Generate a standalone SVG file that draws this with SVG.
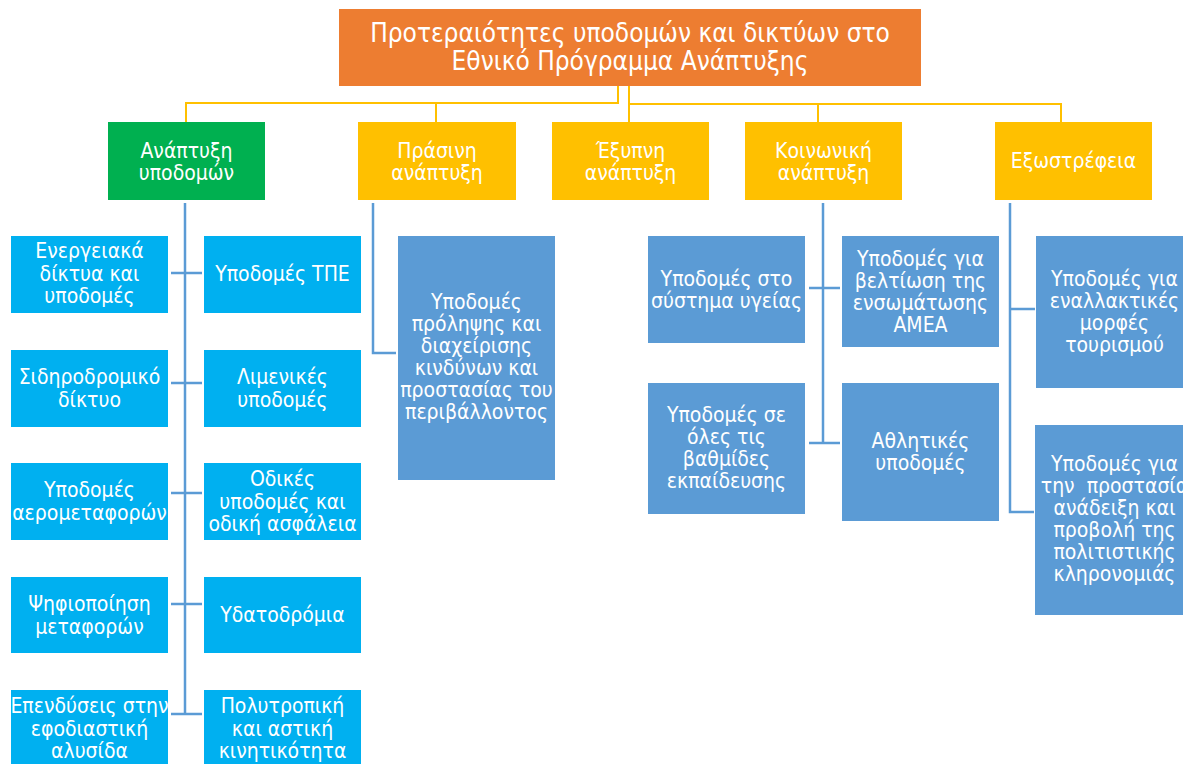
<svg xmlns="http://www.w3.org/2000/svg" width="1183" height="764" viewBox="0 0 1183 764">
<style>
text{font-family:"DejaVu Sans Condensed","DejaVu Sans",sans-serif;fill:#fff;text-anchor:middle;font-size:21px}
.title{font-size:26px}
.orange{fill:#ED7D31}
.green{fill:#00B050}
.yellow{fill:#FFC000}
.cyan{fill:#00B0F0}
.steel{fill:#5B9BD5}
.yl{fill:none;stroke:#FFC000;stroke-width:2}
.bl{fill:none;stroke:#5B9BD5;stroke-width:2.5}
</style>
<rect width="1183" height="764" fill="#fff"/>
<g id="connectors">
<path class="yl" d="M618 86V103H186V122"/>
<path class="yl" d="M618 86V103H436V122"/>
<path class="yl" d="M629 86V122"/>
<path class="yl" d="M629 86V104H818V122"/>
<path class="yl" d="M629 86V104H1061V122"/>
<path class="bl" d="M185 203V715"/>
<path class="bl" d="M171 273H202M171 383H202M171 493H202M171 604H202M171 714H202"/>
<path class="bl" d="M373 203V353H396"/>
<path class="bl" d="M823 203V443"/>
<path class="bl" d="M809 288H840M809 443H840"/>
<path class="bl" d="M1010 203V512H1034M1010 309H1035"/>
</g>
<g id="root"><rect class="orange" x="339" y="9" width="582" height="77"/>
<text class="title" x="630" y="42">Προτεραιότητες υποδομών και δικτύων στο</text>
<text class="title" x="630" y="70">Εθνικό Πρόγραμμα Ανάπτυξης</text></g>

<g id="n-anaptyxi"><rect class="green" x="108" y="122" width="157" height="78"/>
<text x="186.5" y="158">Ανάπτυξη</text><text x="186.5" y="180">υποδομών</text></g>
<g id="n-prasini"><rect class="yellow" x="358" y="122" width="158" height="78"/>
<text x="437" y="158">Πράσινη</text><text x="437" y="180">ανάπτυξη</text></g>
<g id="n-exypni"><rect class="yellow" x="552" y="122" width="157" height="78"/>
<text x="630.5" y="158">Έξυπνη</text><text x="630.5" y="180">ανάπτυξη</text></g>
<g id="n-koinoniki"><rect class="yellow" x="745" y="122" width="157" height="78"/>
<text x="823.5" y="158">Κοινωνική</text><text x="823.5" y="180">ανάπτυξη</text></g>
<g id="n-exostrefeia"><rect class="yellow" x="995" y="122" width="157" height="78"/>
<text x="1073.5" y="168">Εξωστρέφεια</text></g>

<g id="n-energeia"><rect class="cyan" x="11" y="236" width="157" height="77"/>
<text x="89.5" y="258">Ενεργειακά</text><text x="89.5" y="280.5">δίκτυα και</text><text x="89.5" y="303">υποδομές</text></g>
<g id="n-tpe"><rect class="cyan" x="204" y="236" width="157" height="77"/>
<text x="282.5" y="281">Υποδομές ΤΠΕ</text></g>
<g id="n-sidiro"><rect class="cyan" x="11" y="350" width="157" height="77"/>
<text x="89.5" y="384">Σιδηροδρομικό</text><text x="89.5" y="406.5">δίκτυο</text></g>
<g id="n-limenikes"><rect class="cyan" x="204" y="350" width="157" height="77"/>
<text x="282.5" y="384">Λιμενικές</text><text x="282.5" y="406.5">υποδομές</text></g>
<g id="n-aero"><rect class="cyan" x="11" y="463" width="157" height="77"/>
<text x="89.5" y="497">Υποδομές</text><text x="89.5" y="519.5">αερομεταφορών</text></g>
<g id="n-odikes"><rect class="cyan" x="204" y="463" width="157" height="77"/>
<text x="282.5" y="486">Οδικές</text><text x="282.5" y="508.5">υποδομές και</text><text x="282.5" y="531">οδική ασφάλεια</text></g>
<g id="n-psifio"><rect class="cyan" x="11" y="577" width="157" height="76"/>
<text x="89.5" y="611">Ψηφιοποίηση</text><text x="89.5" y="633.5">μεταφορών</text></g>
<g id="n-ydato"><rect class="cyan" x="204" y="577" width="157" height="76"/>
<text x="282.5" y="622">Υδατοδρόμια</text></g>
<g id="n-epend"><rect class="cyan" x="11" y="690" width="157" height="77"/>
<text x="89.5" y="713">Επενδύσεις στην</text><text x="89.5" y="735.5">εφοδιαστική</text><text x="89.5" y="758">αλυσίδα</text></g>
<g id="n-polytr"><rect class="cyan" x="204" y="690" width="157" height="77"/>
<text x="282.5" y="713">Πολυτροπική</text><text x="282.5" y="735.5">και αστική</text><text x="282.5" y="758">κινητικότητα</text></g>

<g id="n-kindynoi"><rect class="steel" x="398" y="236" width="157" height="244"/>
<text x="476.5" y="309">Υποδομές</text><text x="476.5" y="331">πρόληψης και</text><text x="476.5" y="353">διαχείρισης</text><text x="476.5" y="375">κινδύνων και</text><text x="476.5" y="397">προστασίας του</text><text x="476.5" y="419">περιβάλλοντος</text></g>

<g id="n-ygeia"><rect class="steel" x="648" y="236" width="157" height="107"/>
<text x="726.5" y="285.5">Υποδομές στο</text><text x="726.5" y="307.5">σύστημα υγείας</text></g>
<g id="n-amea"><rect class="steel" x="842" y="236" width="157" height="111"/>
<text x="920.5" y="265.5">Υποδομές για</text><text x="920.5" y="287.5">βελτίωση της</text><text x="920.5" y="309.5">ενσωμάτωσης</text><text x="920.5" y="331.5">ΑΜΕΑ</text></g>
<g id="n-ekpaideusi"><rect class="steel" x="648" y="383" width="157" height="131"/>
<text x="726.5" y="422">Υποδομές σε</text><text x="726.5" y="444">όλες τις</text><text x="726.5" y="466">βαθμίδες</text><text x="726.5" y="488">εκπαίδευσης</text></g>
<g id="n-athlitikes"><rect class="steel" x="842" y="383" width="157" height="138"/>
<text x="920.5" y="448">Αθλητικές</text><text x="920.5" y="470">υποδομές</text></g>

<g id="n-tourismos"><rect class="steel" x="1036" y="236" width="157" height="152"/>
<text x="1114.5" y="286">Υποδομές για</text><text x="1114.5" y="308">εναλλακτικές</text><text x="1114.5" y="330">μορφές</text><text x="1114.5" y="352">τουρισμού</text></g>
<g id="n-politismos"><rect class="steel" x="1035" y="425" width="158" height="190"/>
<text x="1114.5" y="471">Υποδομές για</text><text x="1114.5" y="493" xml:space="preserve">την  προστασία</text><text x="1114.5" y="515">ανάδειξη και</text><text x="1114.5" y="537">προβολή της</text><text x="1114.5" y="559">πολιτιστικής</text><text x="1114.5" y="581">κληρονομιάς</text></g>
</svg>
